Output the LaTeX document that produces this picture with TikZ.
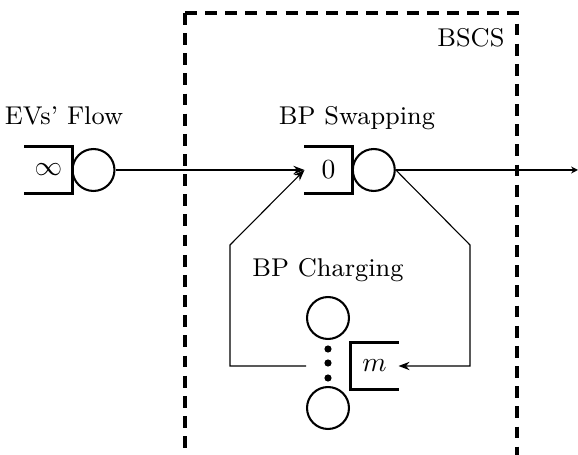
\documentclass[tikz,border=0pt]{standalone}
\usetikzlibrary{arrows.meta}
\begin{document}
\begin{tikzpicture}[x=0.3623pt,y=-0.3623pt,
  srv/.style={circle,draw,line width=0.75pt,minimum size=15.2pt,inner sep=0pt},
  qbox/.style={rectangle,minimum width=17pt,minimum height=16.7pt,inner sep=0pt},
  qline/.style={line width=1.15pt},
  flow/.style={line width=0.95pt},
  link/.style={line width=0.4pt},
  tip/.style={-{Stealth[length=4pt,width=3pt]}},
  dot/.style={circle,fill,inner sep=0pt,minimum size=2.6pt},
  lbl/.style={inner sep=0pt,font=\fontsize{9.3}{11}\selectfont},
  region/.style={line width=1.1pt,dash pattern=on 4.3pt off 3pt}]
\useasboundingbox (0,0) rectangle (578,455);
% BSCS region
\coordinate (bl) at (185,455);
\coordinate (tl) at (185,13);
\coordinate (tr) at (517,13);
\coordinate (br) at (517,455);
\draw[region] (tl) -- (bl);
\draw[region] (tl) -- (tr) -- (br);
\node[lbl,anchor=base east] (bscs) at (505,47) {BSCS};
% EVs' flow
\node[lbl,anchor=base] (l1) at (64,125) {EVs' Flow};
\node[qbox] (q1) at (48.5,170) {$\infty$};
\draw[qline] (q1.north west) -- (q1.north east) -- (q1.south east) -- (q1.south west);
\node[srv] (s1) at (93.5,170) {};
% BP swapping
\node[lbl,anchor=base] (l2) at (357,125) {BP Swapping};
\node[qbox] (q2) at (328.5,170) {$0$};
\draw[qline] (q2.north west) -- (q2.north east) -- (q2.south east) -- (q2.south west);
\node[srv] (s2) at (373.8,170) {};
% BP charging
\node[lbl,anchor=base] (l4) at (328,277) {BP Charging};
\node[srv] (c1) at (328,318) {};
\node[dot] (d1) at (328,349) {};
\node[dot] (d2) at (328,363) {};
\node[dot] (d3) at (328,378) {};
\node[srv] (c2) at (328,408) {};
\node[qbox] (q3) at (374.5,366) {$m$};
\draw[qline] (q3.north east) -- (q3.north west) -- (q3.south west) -- (q3.south east);
% connectors
\coordinate (out) at (578,170);
\draw[flow,tip] (s1.east) -- (q2.west);
\draw[flow,-{Stealth[length=2.5pt,width=2.5pt]}] (s2.east) -- (out);
\coordinate (a1) at (306,366);
\coordinate (a2) at (230,366);
\coordinate (a3) at (230,245);
\draw[link,tip] (a1) -- (a2) -- (a3) -- (q2.west);
\coordinate (b1) at (470,245);
\coordinate (b2) at (470,366);
\draw[link,tip] (s2.east) -- (b1) -- (b2) -- (q3.east);
\end{tikzpicture}
\end{document}
